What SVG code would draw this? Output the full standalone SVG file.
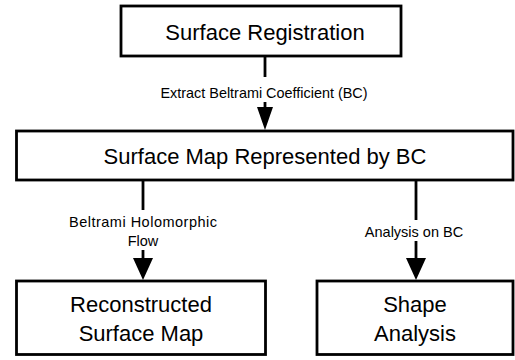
<svg xmlns="http://www.w3.org/2000/svg" width="515" height="360" viewBox="0 0 515 360">
<defs>
<style>
.box{fill:#fff;stroke:#000;stroke-width:2.8}
.t{font-family:"Liberation Sans",Arial,sans-serif;font-size:22px;fill:#000;text-anchor:middle}
.l{font-family:"Liberation Sans",Arial,sans-serif;font-size:14.5px;fill:#000;text-anchor:middle}
.c{stroke:#000;stroke-width:2.8;fill:none}
</style>
</defs>
<rect width="515" height="360" fill="#fff"/>
<g id="connectors">
<line class="c" x1="265" y1="56" x2="265" y2="77"/>
<line class="c" x1="265" y1="102" x2="265" y2="110"/>
<path d="M257,107 L273,107 L265,130 Z" fill="#000"/>
<text class="l" x="264" y="98" textLength="207" lengthAdjust="spacingAndGlyphs">Extract Beltrami Coefficient (BC)</text>
<line class="c" x1="143" y1="180" x2="143" y2="210"/>
<line class="c" x1="143" y1="250" x2="143" y2="260"/>
<path d="M133,258 L153,258 L143,280 Z" fill="#000"/>
<text class="l" x="143" y="227" textLength="148" lengthAdjust="spacing">Beltrami Holomorphic</text>
<text class="l" x="143" y="246">Flow</text>
<line class="c" x1="416" y1="180" x2="416" y2="220"/>
<line class="c" x1="416" y1="241" x2="416" y2="260"/>
<path d="M406,258 L426,258 L416,280 Z" fill="#000"/>
<text class="l" x="414" y="237">Analysis on BC</text>
</g>
<g id="n1">
<rect class="box" x="121" y="6" width="280" height="50"/>
<text class="t" x="265" y="40">Surface Registration</text>
</g>
<g id="n2">
<rect class="box" x="16.5" y="131" width="496.5" height="49"/>
<text class="t" x="265" y="164">Surface Map Represented by BC</text>
</g>
<g id="n3">
<rect class="box" x="16.5" y="281" width="249" height="73.5"/>
<text class="t" x="141" y="312">Reconstructed</text>
<text class="t" x="141" y="341">Surface Map</text>
</g>
<g id="n4">
<rect class="box" x="317" y="281" width="196" height="73.5"/>
<text class="t" x="415" y="312">Shape</text>
<text class="t" x="415" y="341">Analysis</text>
</g>
</svg>
